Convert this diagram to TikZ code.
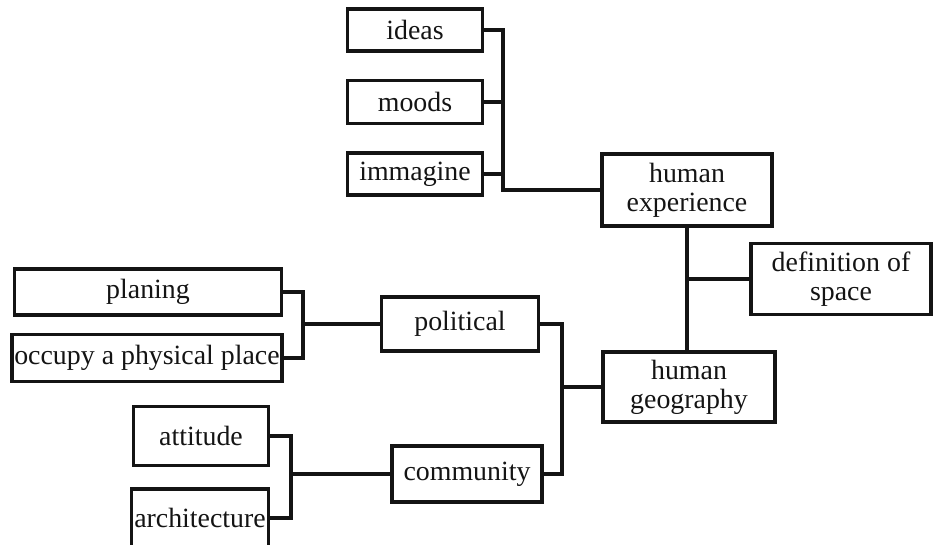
\documentclass[tikz,border=0pt]{standalone}
\usepackage{fontspec}
\setmainfont{Liberation Serif}
\usepackage{tikz}
\usetikzlibrary{positioning,calc}
\definecolor{mapink}{RGB}{20,20,20}

\begin{document}
\begin{tikzpicture}[x=0.75pt, y=-0.75pt, line cap=rect, line join=miter,
    font=\fontsize{20.9}{21.5}\selectfont,
    mapbox/.style={draw=mapink, line width=2.3pt, text=mapink, inner sep=0pt, align=center},
    maplink/.style={draw=mapink, line width=2.3pt}]
   \path[use as bounding box] (0,0) rectangle (933,544); % reference canvas
   \clip (0,0) rectangle (933,544);

   % upper branch
   \node[mapbox, minimum width=101pt, minimum height=31.5pt] (ideas) at (415,30) {ideas};
   \node[mapbox, minimum width=101pt, minimum height=32pt] (moods) at (415,102) {moods};
   \node[mapbox, minimum width=101pt, minimum height=31.5pt] (immagine) at (415,174) {immagine};
   \node[mapbox, minimum width=127.5pt, minimum height=54pt] (hexp) at (687,190) {human\\experience};

   % right side
   \node[mapbox, minimum width=135pt, minimum height=53pt] (defspace) at (841,279) {definition of\\space};
   \node[mapbox, minimum width=129pt, minimum height=52.5pt] (hgeo) at (689,387) {human\\geography};

   % middle level
   \node[mapbox, minimum width=118pt, minimum height=40.5pt] (political) at (460,324) {political};
   \node[mapbox, minimum width=112.5pt, minimum height=42pt] (community) at (467,474) {community};

   % left leaves
   \node[mapbox, minimum width=200pt, minimum height=34.5pt] (planing) at (148,292) {planing};
   \node[mapbox, minimum width=202.5pt, minimum height=35pt] (occupy) at (147,358) {occupy a physical place};
   \node[mapbox, minimum width=101pt, minimum height=44pt] (attitude) at (201,436) {attitude};
   \node[mapbox, minimum width=103pt, minimum height=43.5pt] (architecture) at (200,518) {architecture};

   % junctions
   \coordinate (jtop) at (503,190);
   \coordinate (jpol) at (303,324);
   \coordinate (jcom) at (291,474);
   \coordinate (jgeo) at (562,387);

   \draw[maplink] (ideas.east) -| (jtop) -- (jtop -| hexp.west);
   \draw[maplink] (moods.east) -- (moods.east -| jtop);
   \draw[maplink] (immagine.east) -- (immagine.east -| jtop);

   \draw[maplink] (hexp.south) -- (hexp.south |- hgeo.north);
   \draw[maplink] (hexp.south |- defspace.west) -- (defspace.west);

   \draw[maplink] (planing.east) -| (jpol) -- (political.west);
   \draw[maplink] (occupy.east) -| (jpol);

   \draw[maplink] (attitude.east) -| (jcom) -- (community.west);
   \draw[maplink] (architecture.east) -| (jcom);

   \draw[maplink] (political.east) -| (jgeo) -- (hgeo.west);
   \draw[maplink] (community.east) -| (jgeo);

\end{tikzpicture}
\end{document}
